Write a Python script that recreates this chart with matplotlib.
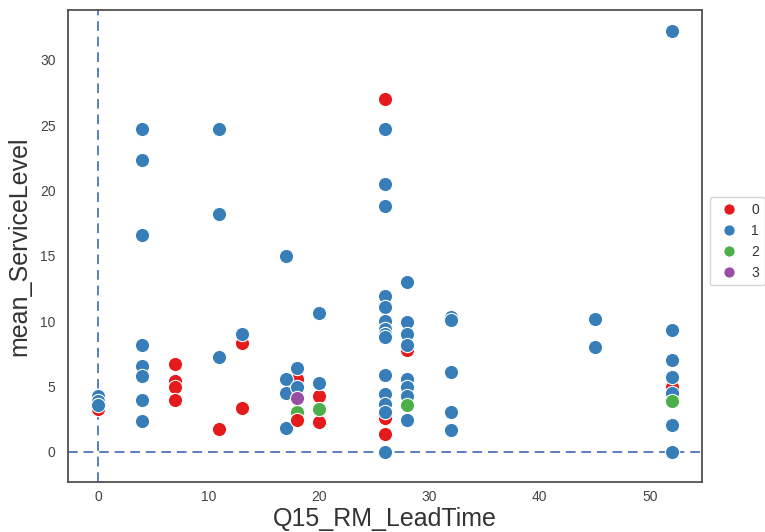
import matplotlib
matplotlib.use("Agg")
import matplotlib.pyplot as plt
from matplotlib.lines import Line2D

# ---- data ----
red_x = [0, 7, 7, 7, 7, 11, 13, 13, 18, 20, 20, 26, 26, 26, 28, 52]
red_y = [3.3, 6.7, 5.4, 5.0, 4.0, 1.75, 8.3, 3.35, 5.6, 4.3, 2.3, 27.0, 2.6, 1.4, 7.8, 4.96]

blue_x = [0, 0, 0,
          4, 4, 4, 4, 4, 4, 4, 4,
          11, 11, 11,
          13,
          17, 17, 17, 17,
          18, 18,
          20, 20,
          26, 26, 26, 26, 26, 26, 26, 26, 26, 26, 26, 26, 26, 26,
          28, 28, 28, 28, 28, 28, 28, 28,
          32, 32, 32, 32, 32,
          45, 45,
          52, 52, 52, 52, 52, 52, 52]
blue_y = [4.3, 3.9, 3.6,
          24.7, 22.3, 16.6, 8.2, 6.6, 5.8, 4.0, 2.4,
          24.7, 18.2, 7.3,
          9.0,
          15.0, 5.6, 4.5, 1.8,
          6.4, 5.0,
          10.6, 5.3,
          24.7, 20.5, 18.8, 11.9, 11.1, 10.0, 9.4, 9.0, 8.8, 5.9, 4.4, 3.7, 3.05, 0.0,
          13.0, 9.95, 9.0, 8.2, 5.6, 5.0, 4.3, 2.45,
          10.3, 10.1, 6.1, 3.05, 1.7,
          10.2, 8.0,
          32.2, 9.3, 7.0, 5.7, 4.5, 2.05, 0.0]

green_x = [18, 20, 28, 52]
green_y = [3.05, 3.3, 3.6, 3.9]

purple_x = [18]
purple_y = [4.1]

late_red_x = [18]
late_red_y = [2.45]

labels = ["0", "1", "2", "3"]
colors = ["#e41a1c", "#377eb8", "#4daf4a", "#984ea3"]

plt.rcParams["font.family"] = ["Liberation Sans", "DejaVu Sans"]

fig = plt.figure(figsize=(7.65, 5.32), dpi=100)
ax = fig.add_axes([0.089, 0.094, 0.829, 0.887])

ax.axhline(0, color="#5a7fc0", linestyle="--", linewidth=1.4, dashes=(5, 3), zorder=1)
ax.axvline(0, color="#5a7fc0", linestyle="--", linewidth=1.4, dashes=(5, 3), zorder=1)

kw = dict(s=105, edgecolors="white", linewidths=0.8, zorder=3)
ax.scatter(red_x, red_y, color=colors[0], **kw)
ax.scatter(blue_x, blue_y, color=colors[1], **kw)
ax.scatter(green_x, green_y, color=colors[2], **kw)
ax.scatter(purple_x, purple_y, color=colors[3], **kw)
ax.scatter(late_red_x, late_red_y, color=colors[0], **kw)

ax.set_xlim(-2.7, 54.7)
ax.set_ylim(-2.3, 33.8)
ax.set_xticks([0, 10, 20, 30, 40, 50])
ax.set_yticks([0, 5, 10, 15, 20, 25, 30])
ax.tick_params(axis="both", which="both", length=0, labelsize=10, colors="#444444")
ax.tick_params(axis="y", pad=9)
ax.tick_params(axis="x", pad=6)

for sp in ax.spines.values():
    sp.set_color("#505050")
    sp.set_linewidth(1.3)

ax.set_xlabel("Q15_RM_LeadTime", fontsize=18, color="#333333", labelpad=2)
ax.set_ylabel("mean_ServiceLevel", fontsize=18, color="#333333", labelpad=6)

handles = [Line2D([0], [0], marker="o", linestyle="", markersize=8,
                  markerfacecolor=c, markeredgecolor="white", markeredgewidth=0.6)
           for c in colors]
leg = ax.legend(handles, labels, loc="center left", bbox_to_anchor=(1.005, 0.51),
                fontsize=10, frameon=True, borderaxespad=0.3, handletextpad=0.6,
                labelspacing=0.5)
leg.get_frame().set_edgecolor("#cccccc")
for t in leg.get_texts():
    t.set_color("#333333")

fig.savefig("out.png", dpi=100)
